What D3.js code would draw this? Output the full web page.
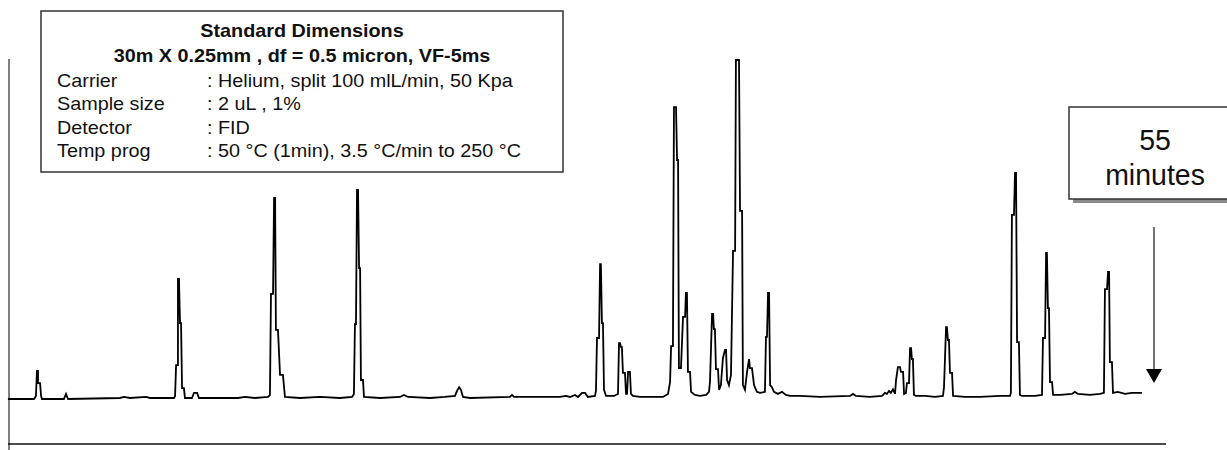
<!DOCTYPE html>
<html>
<head>
<meta charset="utf-8">
<script src="https://cdn.jsdelivr.net/npm/d3@7"></script>
<style>
  body { margin: 0; background: #fff; }
  svg { display: block; font-family: "Liberation Sans", Arial, sans-serif; }
</style>
</head>
<body>
<div id="chart"></div>
<script>
// chromatogram vertices: [retention time (min), detector signal (% of largest peak)]
const traceEarly = [
  [0, 0], [1.17, 0], [1.26, 0.9], [1.31, 8.3], [1.36, 8.3], [1.36, 4.7], [1.46, 4.7], [1.51, 0.9], [1.55, 0],
  [2.62, 0], [2.72, 1.5], [2.82, 0], [5.34, 0.3], [5.54, 0.6], [5.83, 0.3], [6.61, 0.6], [6.80, 0.3],
  [7.97, 0.3], [8.02, 0.9], [8.07, 10.0], [8.16, 10.0], [8.16, 35.4], [8.21, 35.4], [8.26, 22.4], [8.31, 22.4],
  [8.36, 3.2], [8.45, 3.2], [8.50, 0.3], [8.84, 0.3], [8.94, 1.8], [9.09, 1.8], [9.18, 0.3],
  [11.08, 0.3], [11.42, 0.6], [11.90, 0.3], [12.54, 0.6], [12.63, 1.2], [12.68, 31.0], [12.78, 31.0],
  [12.83, 59.3], [12.88, 59.3], [12.92, 20.4], [13.02, 20.4], [13.12, 7.1], [13.26, 7.1], [13.36, 0.6],
  [14.09, 0.3], [15.06, 0.6], [16.03, 0.3], [16.62, 0.6], [16.71, 1.5], [16.76, 22.1], [16.81, 22.1],
  [16.86, 61.7], [16.91, 61.7], [16.96, 38.6], [17.01, 38.6], [17.05, 5.6], [17.15, 5.6], [17.20, 0.6],
  [17.98, 0.3], [18.95, 0.6], [19.14, 1.2], [19.34, 0.6], [20.41, 0.3], [21.13, 0.6], [21.62, 0.9],
  [21.72, 2.4], [21.82, 3.5], [21.91, 2.7], [22.01, 0.6], [22.35, 0.3], [24.29, 0.6], [24.39, 1.2], [24.49, 0.6]
];
const traceMiddle = [
  [26.72, 0.6], [27.01, 0.9], [27.21, 0.6], [27.45, 1.2], [27.60, 0.6], [27.79, 1.8], [27.94, 1.8], [28.08, 0.6],
  [28.42, 0.9], [28.47, 2.4], [28.52, 18.0], [28.62, 18.0], [28.67, 39.8], [28.71, 39.8], [28.76, 22.4], [28.81, 22.4],
  [28.86, 2.7], [28.96, 0.9], [29.15, 0.9], [29.35, 0.9], [29.44, 1.2], [29.54, 1.5], [29.59, 16.5], [29.64, 16.5],
  [29.69, 15.3], [29.73, 15.3], [29.78, 7.7], [29.88, 7.7], [29.93, 1.5], [29.98, 1.5], [30.03, 8.0], [30.12, 8.0],
  [30.17, 1.5], [30.27, 0.9], [30.61, 0.6], [31.34, 0.6], [31.73, 0.6], [31.97, 1.5], [32.07, 5.0], [32.12, 15.6],
  [32.21, 15.6], [32.26, 86.1], [32.36, 86.1], [32.41, 70.5], [32.46, 70.5], [32.50, 9.1], [32.60, 9.1],
  [32.70, 24.2], [32.80, 24.2], [32.84, 31.3], [32.89, 31.3], [32.94, 8.0], [33.04, 8.0], [33.09, 2.1],
  [33.28, 1.2], [33.52, 0.9], [33.82, 1.2], [33.96, 2.1], [34.01, 5.0], [34.11, 25.1], [34.16, 25.1],
  [34.20, 20.6], [34.25, 20.6], [34.30, 8.8], [34.40, 8.8], [34.45, 2.7], [34.54, 4.1], [34.64, 12.1],
  [34.74, 14.5], [34.79, 14.5], [34.84, 5.6], [34.93, 4.1], [35.03, 7.1], [35.13, 43.7], [35.23, 43.7],
  [35.27, 100], [35.42, 100], [35.47, 55.5], [35.57, 55.5], [35.61, 4.1], [35.71, 2.7], [35.81, 8.0],
  [35.91, 11.8], [35.95, 9.1], [36.05, 9.1], [36.15, 4.1], [36.29, 2.1], [36.44, 1.8], [36.68, 2.1],
  [36.73, 18.3], [36.78, 18.3], [36.83, 31.3], [36.88, 31.3], [36.93, 4.1], [37.02, 3.5], [37.12, 2.1],
  [37.31, 1.5], [37.51, 2.1], [37.70, 1.2], [37.90, 0.9], [38.38, 0.9], [39.35, 0.6]
];
const traceLate = [
  [40.81, 0.9], [40.96, 1.5], [41.10, 0.9], [41.78, 0.6], [42.37, 0.9], [42.51, 1.8], [42.61, 1.5], [42.71, 2.4],
  [42.80, 1.8], [42.90, 2.9], [43.00, 1.5], [43.05, 5.6], [43.14, 9.4], [43.24, 9.4], [43.29, 8.0], [43.39, 8.0],
  [43.44, 1.5], [43.53, 1.8], [43.58, 4.7], [43.68, 4.7], [43.73, 15.0], [43.78, 15.0], [43.82, 11.8], [43.87, 11.8],
  [43.92, 1.2], [44.02, 0.9], [44.46, 0.9], [44.94, 0.6], [45.33, 0.9], [45.38, 3.5], [45.48, 21.2], [45.52, 21.2],
  [45.57, 17.4], [45.62, 17.4], [45.67, 7.7], [45.77, 7.7], [45.82, 0.9], [46.40, 0.6], [47.13, 0.6], [48.10, 0.9],
  [48.59, 0.9], [48.63, 1.8], [48.68, 54.3], [48.78, 54.3], [48.83, 66.7], [48.88, 66.7], [48.93, 16.8], [49.02, 16.8],
  [49.07, 1.2], [49.17, 0.9], [49.80, 0.9], [50.14, 1.2], [50.19, 18.0], [50.29, 18.0], [50.34, 43.1], [50.38, 43.1],
  [50.43, 26.8], [50.48, 26.8], [50.53, 5.0], [50.63, 5.0], [50.68, 1.2], [51.02, 1.2], [51.60, 1.5], [51.74, 2.1],
  [51.89, 1.5], [52.47, 1.2], [52.96, 1.5], [53.15, 1.8], [53.20, 32.4], [53.30, 32.4], [53.35, 37.5], [53.40, 37.5],
  [53.44, 10.9], [53.54, 10.9], [53.59, 1.8], [53.83, 2.1], [54.17, 1.5], [54.51, 1.8], [55, 1.8]
];

const titleLines = ["Standard Dimensions", "30m X 0.25mm , df = 0.5 micron, VF-5ms"];
const paramLabels = ["Carrier", "Sample size", "Detector", "Temp prog"];
const paramValues = [": Helium, split 100 mlL/min, 50 Kpa", ": 2 uL , 1%", ": FID", ": 50 °C (1min), 3.5 °C/min to 250 °C"];
const runTime = 55;
const runLabel = [String(runTime), "minutes"];

const width = 1227, height = 450;
const trace = traceEarly.concat(traceMiddle, traceLate);

const svg = d3.select("#chart").append("svg")
  .attr("width", width)
  .attr("height", height);

const x = d3.scaleLinear().domain([0, runTime]).range([10, 1142]);
const y = d3.scaleLinear().domain([0, 100]).range([399, 60]);

// frame: grey signal axis on the left, black time line at the bottom
svg.append("line")
  .attr("x1", 9).attr("x2", 9)
  .attr("y1", 59).attr("y2", height)
  .attr("stroke", "#808080").attr("stroke-width", 2);

svg.append("line")
  .attr("x1", 8).attr("x2", 1166)
  .attr("y1", 444).attr("y2", 444)
  .attr("stroke", "#111").attr("stroke-width", 1.6);

// the chromatogram itself
const line = d3.line()
  .x(d => x(d[0]))
  .y(d => y(d[1]));

svg.append("path")
  .datum([[-0.1, 0]].concat(trace))
  .attr("d", line)
  .attr("fill", "none")
  .attr("stroke", "#000")
  .attr("stroke-width", 1.8)
  .attr("stroke-linejoin", "miter");

/* info box */
const info = svg.append("g");
info.append("rect")
  .attr("x", 41).attr("y", 11)
  .attr("width", 522).attr("height", 161)
  .attr("fill", "#fff")
  .attr("stroke", "#333").attr("stroke-width", 1.5);

info.selectAll(".title")
  .data(titleLines)
  .enter().append("text")
  .attr("class", "title")
  .attr("transform", (d, i) => "translate(302," + (37 + i * 25) + ") scale(1.1,1)")
  .attr("text-anchor", "middle")
  .attr("font-size", 18)
  .attr("font-weight", "bold")
  .attr("fill", "#111")
  .text(d => d);

info.selectAll(".label")
  .data(paramLabels)
  .enter().append("text")
  .attr("class", "label")
  .attr("transform", (d, i) => "translate(57," + (87 + i * 23.3) + ") scale(1.1,1)")
  .attr("font-size", 18)
  .attr("fill", "#111")
  .text(d => d);

info.selectAll(".value")
  .data(paramValues)
  .enter().append("text")
  .attr("class", "value")
  .attr("transform", (d, i) => "translate(207," + (87 + i * 23.3) + ") scale(1.1,1)")
  .attr("font-size", 18)
  .attr("fill", "#111")
  .text(d => d);

/* run time box with shadow and arrow */
const run = svg.append("g");
run.append("rect")
  .attr("x", 1073).attr("y", 111)
  .attr("width", 180).attr("height", 92)
  .attr("fill", "#8a8a8a");
run.append("rect")
  .attr("x", 1069).attr("y", 107)
  .attr("width", 180).attr("height", 92)
  .attr("fill", "#fff")
  .attr("stroke", "#333").attr("stroke-width", 1.5);

run.selectAll("text")
  .data(runLabel)
  .enter().append("text")
  .attr("transform", (d, i) => "translate(1155," + (150 + i * 35) + ") scale(0.95,1)")
  .attr("text-anchor", "middle")
  .attr("font-size", 30)
  .attr("fill", "#111")
  .text(d => d);

const arrowX = x(runTime) + 12;
run.append("line")
  .attr("x1", arrowX).attr("x2", arrowX)
  .attr("y1", 227).attr("y2", 372)
  .attr("stroke", "#444").attr("stroke-width", 1.5);
run.append("path")
  .attr("d", "M" + (arrowX - 8) + ",369L" + (arrowX + 8) + ",369L" + arrowX + ",383Z")
  .attr("fill", "#000");
</script>
</body>
</html>
